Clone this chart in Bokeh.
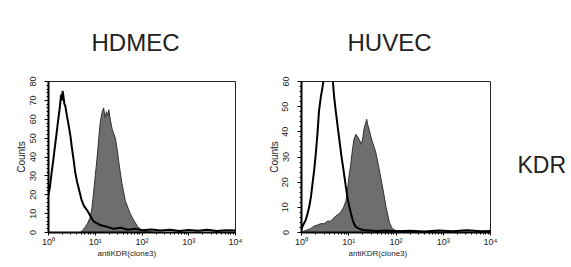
from bokeh.plotting import figure
from bokeh.layouts import row
from bokeh.models import Range1d, Label, FixedTicker, Title
from bokeh.embed import file_html
from bokeh.resources import INLINE

FONT = "Liberation Sans"

# ---- data (fluorescence intensity, counts) ----
hdmec_ctrl_x = [1.00, 1.07, 1.17, 1.26, 1.38, 1.48, 1.62, 1.74, 1.86, 1.95, 2.00, 2.09, 2.19, 2.29,
                2.51, 2.69, 2.95, 3.16, 3.47, 3.72, 4.07, 4.37, 4.79, 5.13, 5.75, 6.61, 7.76, 9.12,
                10.7, 12.6, 17.8, 24.5, 35.5, 50.1, 70.8, 100, 158, 251, 398, 631, 1000, 1585,
                2512, 3981, 6310, 10000]
hdmec_ctrl_y = [20, 24, 32, 38, 46, 52, 60, 66, 73, 70, 75, 72, 68, 67,
                61, 57, 51, 45, 38, 32, 27, 24, 20, 17, 14, 12, 9, 6,
                5, 4, 3, 2, 2.5, 1.5, 2, 1.2, 1.6, 1, 1.4, 0.8, 1.3, 0.9,
                1.5, 0.8, 1.2, 1]

hdmec_kdr_x = [4.79, 5.50, 6.17, 6.92, 7.76, 8.51, 9.12, 10.0, 11.0, 12.0, 12.9, 14.1, 15.1, 16.2,
               17.4, 18.6, 19.5, 20.9, 22.9, 25.1, 26.9, 29.5, 31.6, 34.7, 37.2, 40.7, 43.7, 50.1,
               56.2, 64.6, 72.4, 81.3, 91.2, 112, 158, 316]
hdmec_kdr_y = [0, 1.5, 3, 5, 8, 13, 20, 30, 40, 51, 59, 64, 66, 61,
               64, 62, 65, 60, 55, 52, 50, 44, 38, 31, 26, 21, 17, 13,
               10, 7, 5, 3, 2, 0.8, 0.3, 0]

huvec_ctrl_x = [1.00, 1.02, 1.12, 1.23, 1.32, 1.45, 1.58, 1.70, 1.86, 2.00, 2.19, 2.34, 2.57, 2.75,
                2.95, 3.31, 3.72, 4.17, 4.57, 4.90, 5.25, 5.75, 6.31, 6.92, 7.59, 8.13, 8.71, 9.55,
                10.5, 11.5, 12.6, 14.1, 16.6, 20.0, 28.2, 39.8, 63.1, 100, 200, 398, 794, 1585,
                3162, 6310, 10000]
huvec_ctrl_y = [1, 2, 3.5, 5, 7, 10, 14, 19, 25, 31, 40, 48, 54, 57,
                61, 63, 62, 63, 61, 54, 49, 43, 37, 31, 26, 22, 18, 13,
                9.5, 6.5, 4, 2.2, 1.5, 1, 0.8, 0.6, 0.8, 0.5, 0.7, 0.4, 0.8, 0.5,
                0.9, 0.5, 0.6]

huvec_kdr_x = [1.00, 1.12, 1.32, 1.55, 1.82, 2.19, 2.57, 3.02, 3.55, 4.17, 4.90, 5.75, 6.76, 7.76,
               8.71, 9.33, 10.0, 11.0, 12.0, 12.9, 14.1, 15.5, 16.6, 18.6, 20.0, 20.9, 22.4, 24.0,
               25.1, 26.9, 29.5, 31.6, 37.2, 43.7, 52.5, 61.7, 72.4, 81.3, 91.2, 126, 316, 1000]
huvec_kdr_y = [0, 0.5, 1, 1.5, 2.5, 3, 3.5, 3.5, 4.5, 4.5, 6, 7, 8, 10,
               12.5, 16, 21.5, 27, 33, 37, 39, 38, 37, 35, 38, 41, 43, 45,
               43, 41, 38, 36, 32, 25.5, 17.6, 10, 4, 2, 1, 0.5, 0.2, 0]

x_ticks = [1, 10, 100, 1000, 10000]
x_tick_labels = ["10\u2070", "10\u00b9", "10\u00b2", "10\u00b3", "10\u2074"]
hdmec_ymax = 80
huvec_ymax = 60
x_label = "antiKDR(clone3)"
y_label = "Counts"
row_label = "KDR"

H = 267


def panel(title, ctrl_x, ctrl_y, kdr_x, kdr_y, ymax, width, bl, br, title_off, xl_off):
    p = figure(width=width, height=H, x_axis_type="log",
               x_range=Range1d(1, 10000), y_range=Range1d(0, ymax),
               min_border_left=bl, min_border_right=br, min_border_top=79, min_border_bottom=35,
               toolbar_location=None, output_backend="svg")
    p.title.text = title
    p.title.text_font = FONT
    p.title.text_font_size = "24px"
    p.title.text_font_style = "normal"
    p.title.text_color = "#222222"
    p.title.align = "left"
    p.title.offset = title_off
    p.title.standoff = 52
    p.grid.visible = False
    p.outline_line_color = "#222222"
    p.outline_line_width = 1
    p.background_fill_color = "white"
    p.border_fill_color = "white"

    p.varea(x=kdr_x, y1=[0] * len(kdr_x), y2=kdr_y, fill_color="#6e6e6e")
    p.line(kdr_x, kdr_y, line_color="#303030", line_width=1)
    p.line(ctrl_x, ctrl_y, line_color="black", line_width=2)

    for ax in (p.xaxis[0], p.yaxis[0]):
        ax.axis_line_width = 2
        ax.axis_line_color = "black"
        ax.major_tick_in = 0
        ax.minor_tick_in = 0
        ax.major_tick_line_color = "black"
        ax.minor_tick_line_color = "black"
        ax.major_label_text_font = FONT
        ax.major_label_text_color = "#222222"
        ax.axis_label_text_font = FONT
        ax.axis_label_text_font_style = "normal"
        ax.axis_label_text_color = "#222222"

    xa = p.xaxis[0]
    xa.ticker = FixedTicker(ticks=x_ticks,
                            minor_ticks=[m * d for d in [1, 10, 100, 1000] for m in range(2, 10)])
    xa.major_label_overrides = dict(zip(x_ticks, x_tick_labels))
    xa.major_tick_out = 3
    xa.minor_tick_out = 2
    xa.major_label_text_font_size = "9px"
    xa.major_label_standoff = 1

    ya = p.yaxis[0]
    ya.ticker = FixedTicker(ticks=list(range(0, ymax + 1, 10)),
                            minor_ticks=list(range(0, ymax + 1, 2)))
    ya.major_tick_out = 4
    ya.minor_tick_out = 2
    ya.major_label_orientation = "vertical"
    ya.major_label_text_font_size = "9px"
    ya.major_label_standoff = 9
    ya.axis_label = y_label
    ya.axis_label_text_font_size = "10px"
    ya.axis_label_standoff = 0

    p.add_layout(Title(text=x_label, align="left", offset=xl_off, text_font=FONT,
                       text_font_size="8px", text_font_style="normal", text_color="#222222",
                       standoff=-5), "below")
    return p


pa = panel("HDMEC", hdmec_ctrl_x, hdmec_ctrl_y, hdmec_kdr_x, hdmec_kdr_y, hdmec_ymax,
           262, 48, 27, 43, 49)
pb = panel("HUVEC", huvec_ctrl_x, huvec_ctrl_y, huvec_kdr_x, huvec_kdr_y, huvec_ymax,
           248, 39, 20, 46, 47)

# side label panel
pc = figure(width=61, height=H, x_range=Range1d(0, 61), y_range=Range1d(0, H),
            x_axis_location=None, y_axis_location=None, min_border=0,
            toolbar_location=None, output_backend="svg")
pc.grid.visible = False
pc.outline_line_color = None
pc.add_layout(Label(x=7, y=H - 147, text=row_label, text_font=FONT, text_font_size="23px",
                    text_color="#222222", text_baseline="middle", text_align="left"))

layout = row(pa, pb, pc)
open("out.html", "w").write(file_html(layout, INLINE))
